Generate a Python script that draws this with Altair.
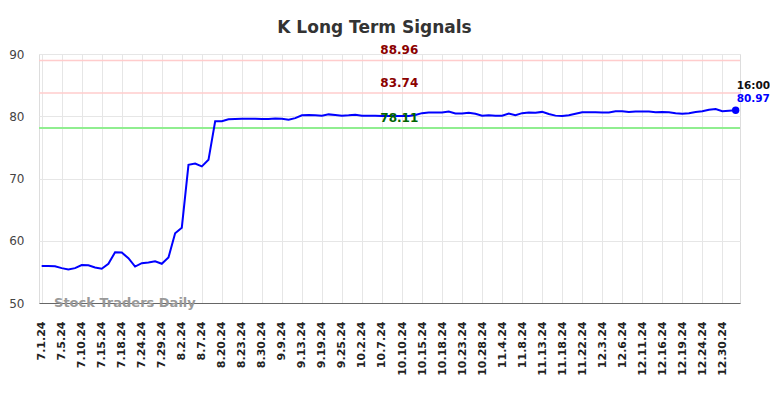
import altair as alt
import pandas as pd

tick_labels = ["7.1.24", "7.5.24", "7.10.24", "7.15.24", "7.18.24", "7.24.24", "7.29.24",
               "8.2.24", "8.7.24", "8.20.24", "8.23.24", "8.30.24", "9.9.24", "9.13.24",
               "9.19.24", "9.25.24", "10.2.24", "10.7.24", "10.10.24", "10.15.24", "10.18.24",
               "10.23.24", "10.28.24", "11.4.24", "11.8.24", "11.13.24", "11.18.24", "11.22.24",
               "12.3.24", "12.6.24", "12.11.24", "12.16.24", "12.19.24", "12.24.24", "12.30.24"]

values = [
    55.95, 55.95, 55.9, 55.6, 55.4, 55.6, 56.1, 56.05, 55.7, 55.5,
    56.3, 58.15, 58.1, 57.2, 55.85, 56.4, 56.5, 56.7, 56.3, 57.3,
    61.2, 62.1, 72.2, 72.4, 71.95, 73.0, 79.2, 79.2, 79.5, 79.55,
    79.6, 79.6, 79.6, 79.55, 79.55, 79.65, 79.6, 79.45, 79.7, 80.15,
    80.2, 80.15, 80.1, 80.3, 80.2, 80.1, 80.15, 80.25, 80.1, 80.1,
    80.1, 80.05, 80.05, 80.05, 80.05, 80.05, 80.2, 80.5, 80.6, 80.6,
    80.6, 80.75, 80.45, 80.45, 80.55, 80.4, 80.1, 80.15, 80.1, 80.1,
    80.45, 80.15, 80.5, 80.6, 80.55, 80.7, 80.35, 80.1, 80.05, 80.15,
    80.4, 80.65, 80.65, 80.65, 80.6, 80.6, 80.8, 80.8, 80.7, 80.75,
    80.75, 80.75, 80.65, 80.7, 80.65, 80.5, 80.4, 80.5, 80.7, 80.8,
    81.05, 81.15, 80.8, 80.9, 80.97,
]

levels = [88.96, 83.74, 78.11]
level_line_colors = ["#ffcccc", "#ffcccc", "#90ee90"]
level_text_colors = ["#8b0000", "#8b0000", "#006400"]
level_widths = [1.5, 1.5, 2]
last_time = "16:00"
watermark = "Stock Traders Daily"

FONT = "DejaVu Sans"
step = 3
n = len(values)

df = pd.DataFrame({"i": list(range(n)), "v": values})
lv = pd.DataFrame({"v": levels, "lc": level_line_colors, "tc": level_text_colors,
                   "w": level_widths, "label": [f"{l:.2f}" for l in levels],
                   "i": [53.6] * len(levels)})
last = pd.DataFrame({"i": [n - 1], "v": [values[-1]], "t": [last_time],
                     "vl": [f"{values[-1]:.2f}"]})
wm = pd.DataFrame({"i": [1.85], "v": [50.0], "t": [watermark]})

tick_idx = [step * k for k in range(len(tick_labels))]
label_expr = "[" + ",".join(f"'{t}'" for t in tick_labels) + f"][round(datum.value/{step})]"

xscale = alt.Scale(domain=[-0.4, n - 1 + 0.65], nice=False, zero=False)
yscale = alt.Scale(domain=[50, 90], nice=False, zero=False)

xaxis = alt.Axis(values=tick_idx, labelExpr=label_expr, labelAngle=270,
                 labelFontWeight="bold", labelFontSize=11, labelColor="#222",
                 labelPadding=18, ticks=False, tickSize=0, grid=True,
                 gridColor="#e6e6e6", gridWidth=1, domainColor="#666",
                 domainWidth=1.2, title=None, labelFont=FONT, labelOverlap=False,
                 labelBound=False, labelFlush=False)
yaxis = alt.Axis(values=[50, 60, 70, 80, 90], labelFontSize=12, labelColor="#444",
                 labelPadding=15, ticks=False, tickSize=0, domain=False, grid=True,
                 gridColor="#e6e6e6", gridWidth=1, title=None, labelFont=FONT,
                 labelOverlap=False)


def X():
    return alt.X("i:Q", scale=xscale, axis=xaxis)


def Y():
    return alt.Y("v:Q", scale=yscale, axis=yaxis)


line = alt.Chart(df).mark_line(color="#0000ff", strokeWidth=2).encode(x=X(), y=Y())

rules = alt.Chart(lv).mark_rule().encode(
    y=Y(),
    color=alt.Color("lc:N", scale=None),
    strokeWidth=alt.StrokeWidth("w:Q", scale=None),
)
level_text = alt.Chart(lv).mark_text(fontWeight="bold", fontSize=12, font=FONT,
                                     baseline="bottom", align="center", dy=-3).encode(
    x=X(), y=Y(), text="label:N", color=alt.Color("tc:N", scale=None),
)

dot = alt.Chart(last).mark_point(filled=True, size=55, color="#0000ff", opacity=1).encode(
    x=X(), y=Y())
t_time = alt.Chart(last).mark_text(fontWeight="bold", fontSize=10.5, font=FONT, color="#111",
                                   align="left", baseline="middle", dx=1, dy=-24).encode(
    x=X(), y=Y(), text="t:N")
t_val = alt.Chart(last).mark_text(fontWeight="bold", fontSize=10.5, font=FONT, color="#0000ff",
                                  align="left", baseline="middle", dx=1, dy=-11).encode(
    x=X(), y=Y(), text="vl:N")
wm_text = alt.Chart(wm).mark_text(fontWeight="bold", fontSize=13, font=FONT, color="#999999",
                                  align="left", baseline="middle").encode(
    x=X(), y=Y(), text="t:N")

chart = alt.layer(rules, line, level_text, dot, t_time, t_val, wm_text).properties(
    width=701, height=249,
    title=alt.TitleParams("K Long Term Signals", fontSize=17, fontWeight="bold",
                          color="#333", font=FONT, anchor="middle", dx=-15, offset=7),
    autosize=alt.AutoSizeParams(type="none"),
    padding={"left": 31, "top": 46, "right": 30, "bottom": 80},
).configure_view(stroke=None).configure(font=FONT)

chart.save("out.html", embed_options={"renderer": "svg", "actions": False})
